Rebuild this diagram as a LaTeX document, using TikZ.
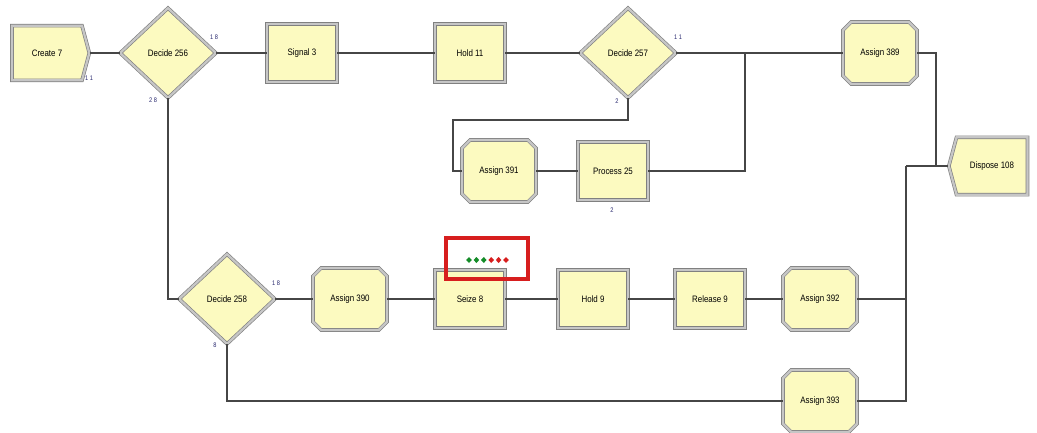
\documentclass[tikz,border=0pt]{standalone}
\usepackage{fontspec}
\usetikzlibrary{shapes.geometric,shapes.misc,shapes.symbols}
\newfontfamily\arenafont[FakeStretch=0.85]{Liberation Sans}

\definecolor{modfill}{RGB}{252,250,192}
\definecolor{modedge}{RGB}{128,128,128}
\definecolor{modbevel}{RGB}{198,198,198}
\definecolor{wire}{RGB}{70,70,70}
\definecolor{countblue}{RGB}{40,40,110}
\definecolor{qgreen}{RGB}{20,140,40}
\definecolor{qred}{RGB}{215,30,30}

\tikzset{
  module/.style={draw=modedge, double=modbevel, double distance=1.7pt, line width=0.5pt,
    fill=modfill, inner sep=0pt, font=\arenafont\fontsize{7}{8}\selectfont},
  rectmod/.style={module, rectangle, minimum width=52.5pt, minimum height=43.5pt},
  assignmod/.style={module, chamfered rectangle, chamfered rectangle xsep=5.5pt,
    minimum width=55.5pt, minimum height=46.5pt},
  decidemod/.style={module, diamond, minimum width=72pt, minimum height=67.5pt},
  createmod/.style={module, signal, signal to=east, signal pointer angle=150,
    minimum width=58pt, minimum height=41pt},
  disposemod/.style={module, signal, signal to=west, signal pointer angle=150,
    minimum width=59pt, minimum height=43pt},
  wire/.style={draw=wire, line width=1pt},
  count/.style={text=countblue, inner sep=0.5pt, font=\arenafont\fontsize{5}{6}\selectfont}
}

\begin{document}
\begin{tikzpicture}[x=0.75pt,y=0.75pt,yscale=-1,xscale=1]
        \useasboundingbox (0,0) rectangle (1037,432);

        %Shape: Modules (top row)
        \node [createmod] (create7) at (47,53) {Create 7};
        \node [decidemod] (decide256) at (168,53) {Decide 256};
        \node [rectmod] (signal3) at (302,53) {Signal 3};
        \node [rectmod] (hold11) at (470,53) {Hold 11};
        \node [decidemod] (decide257) at (628,53) {Decide 257};
        \node [assignmod] (assign389) at (880,53) {Assign 389};
        \node [disposemod] (dispose108) at (992,166) {Dispose 108};

        %Shape: Modules (middle row)
        \node [assignmod] (assign391) at (499,171) {Assign 391};
        \node [rectmod] (process25) at (613,171) {Process 25};

        %Shape: Modules (bottom rows)
        \node [decidemod] (decide258) at (227,299) {Decide 258};
        \node [assignmod] (assign390) at (350,299) {Assign 390};
        \node [rectmod] (seize8) at (470,299) {Seize 8};
        \node [rectmod] (hold9) at (593,299) {Hold 9};
        \node [rectmod] (release9) at (710,299) {Release 9};
        \node [assignmod] (assign392) at (820,299) {Assign 392};
        \node [assignmod] (assign393) at (820,401) {Assign 393};

        %Coordinates for the bends
        \coordinate (bend257) at (453,120);
        \coordinate (join257) at (745,53);
        \coordinate (join389) at (936,166);
        \coordinate (join392) at (906,166);

        %Straight Lines
        \draw [wire] (create7.east) -- (decide256.west);
        \draw [wire] (decide256.east) -- (signal3.west);
        \draw [wire] (signal3.east) -- (hold11.west);
        \draw [wire] (hold11.east) -- (decide257.west);
        \draw [wire] (decide257.east) -- (assign389.west);
        \draw [wire] (decide257.south) |- (bend257) |- (assign391.west);
        \draw [wire] (assign391.east) -- (process25.west);
        \draw [wire] (process25.east) -| (join257);
        \draw [wire] (assign389.east) -| (join389) -- (dispose108.west);
        \draw [wire] (join392) -- (dispose108.west);
        \draw [wire] (decide256.south) |- (decide258.west);
        \draw [wire] (decide258.east) -- (assign390.west);
        \draw [wire] (assign390.east) -- (seize8.west);
        \draw [wire] (seize8.east) -- (hold9.west);
        \draw [wire] (hold9.east) -- (release9.west);
        \draw [wire] (release9.east) -- (assign392.west);
        \draw [wire] (assign392.east) -| (join392);
        \draw [wire] (assign393.east) -| (join392);
        \draw [wire] (decide258.south) |- (assign393.west);

        %Shape: Queue of Seize 8
        \draw [qred, line width=3pt] (446,238) rectangle (528,279);
        \foreach \i/\c in {0/qgreen,1/qgreen,2/qgreen,3/qred,4/qred,5/qred}
          \fill [\c] (469+7.4*\i,260) +(-2.8,0) -- +(0,-3) -- +(2.8,0) -- +(0,3) -- cycle;

        % Text Node
        \node [count] (cnt7) at (89,78) {1 1};
        \node [count] (cnt256a) at (214,37) {1 8};
        \node [count] (cnt256b) at (153,100) {2 8};
        \node [count] (cnt257a) at (678,37) {1 1};
        \node [count] (cnt257b) at (617,101) {2};
        \node [count] (cnt25) at (612,210) {2};
        \node [count] (cnt258a) at (276,283) {1 8};
        \node [count] (cnt258b) at (215,345) {8};
    \end{tikzpicture}
\end{document}
